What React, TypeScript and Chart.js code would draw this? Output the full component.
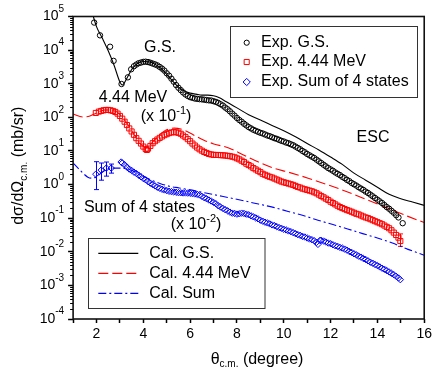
import React, { useEffect, useRef } from 'react';
import { Chart, registerables } from 'chart.js';

Chart.register(...registerables);

const FONT = '"Liberation Sans", Arial, Helvetica, sans-serif';

// ---- data (dσ/dΩ in mb/sr, angle θc.m. in degrees) ----
const gsAngles = [1.90, 2.15, 2.58, 2.73, 3.07, 3.34, 3.48, 3.6, 3.7, 3.8, 3.9, 4.0, 4.1, 4.2, 4.3, 4.4, 4.5, 4.6, 4.7, 4.8, 4.9, 5.0, 5.1, 5.2, 5.3, 5.4, 5.5, 5.6, 5.7, 5.8, 5.9, 6.0, 6.1, 6.2, 6.3, 6.4, 6.5, 6.6, 6.7, 6.8, 6.9, 7.0, 7.1, 7.2, 7.3, 7.4, 7.5, 7.6, 7.7, 7.8, 7.9, 8.0, 8.1, 8.2, 8.3, 8.4, 8.5, 8.6, 8.7, 8.8, 8.9, 9.0, 9.1, 9.2, 9.3, 9.4, 9.5, 9.6, 9.7, 9.8, 9.9, 10.0, 10.1, 10.2, 10.3, 10.4, 10.5, 10.6, 10.7, 10.8, 10.9, 11.0, 11.1, 11.2, 11.3, 11.4, 11.5, 11.6, 11.7, 11.8, 11.9, 12.0, 12.1, 12.2, 12.3, 12.4, 12.5, 12.6, 12.7, 12.8, 12.9, 13.0, 13.1, 13.2, 13.3, 13.4, 13.5, 13.6, 13.7, 13.8, 13.9, 14.0, 14.1, 14.2, 14.3, 14.4, 14.5, 14.6, 14.7, 14.8, 14.9, 15.08];
const gsValues = [66000, 27500, 12600, 4790, 980, 1550, 2690, 3311, 3715, 4074, 4266, 4467, 4520, 4416, 4217, 3981, 3758, 3508, 3162, 2818, 2455, 2042, 1738, 1413, 1148, 912, 759, 646, 550, 479, 432, 398, 380, 363, 355, 347, 343, 335, 327, 320, 316, 302, 288, 269, 245, 224, 195, 174, 151, 129, 112, 95.5, 83.2, 74.1, 64.6, 57.5, 51.3, 46.8, 42.7, 39.8, 37.2, 34.7, 33.1, 30.9, 28.8, 27.5, 25.7, 24.0, 22.9, 21.4, 20.0, 19.1, 17.8, 17.0, 15.8, 14.8, 13.5, 12.3, 11.2, 10.0, 9.12, 8.13, 7.41, 6.76, 6.17, 5.50, 4.90, 4.37, 3.89, 3.47, 3.09, 2.82, 2.57, 2.29, 2.09, 1.91, 1.70, 1.55, 1.38, 1.26, 1.12, 1.02, 0.933, 0.832, 0.759, 0.692, 0.617, 0.562, 0.501, 0.447, 0.398, 0.355, 0.316, 0.282, 0.245, 0.214, 0.191, 0.166, 0.145, 0.123, 0.105, 0.0708];

// 4.44 MeV state, already multiplied by 10^-1
const exc444Angles = [1.97, 2.1, 2.2, 2.3, 2.4, 2.5, 2.6, 2.7, 2.8, 2.9, 3.0, 3.1, 3.2, 3.3, 3.4, 3.5, 3.6, 3.7, 3.8, 3.9, 4.0, 4.1, 4.15, 4.2, 4.3, 4.4, 4.5, 4.6, 4.7, 4.8, 4.9, 5.0, 5.1, 5.2, 5.3, 5.4, 5.5, 5.6, 5.7, 5.8, 5.9, 6.0, 6.1, 6.2, 6.3, 6.4, 6.5, 6.6, 6.7, 6.8, 6.9, 7.0, 7.1, 7.2, 7.3, 7.4, 7.5, 7.6, 7.7, 7.8, 7.9, 8.0, 8.1, 8.2, 8.3, 8.4, 8.5, 8.6, 8.7, 8.8, 8.9, 9.0, 9.1, 9.2, 9.3, 9.4, 9.5, 9.6, 9.7, 9.8, 9.9, 10.0, 10.1, 10.2, 10.3, 10.4, 10.5, 10.6, 10.7, 10.8, 10.9, 11.0, 11.1, 11.2, 11.3, 11.4, 11.5, 11.6, 11.7, 11.8, 11.9, 12.0, 12.1, 12.2, 12.3, 12.4, 12.5, 12.6, 12.7, 12.8, 12.9, 13.0, 13.1, 13.2, 13.3, 13.4, 13.5, 13.6, 13.7, 13.8, 13.9, 14.0, 14.1, 14.2, 14.3, 14.4, 14.5, 14.6, 14.7, 14.8, 14.9, 14.98];
const exc444Values = [135, 148, 155, 162, 166, 166, 162, 155, 145, 129, 110, 91.2, 74.1, 58.9, 46.8, 38.0, 30.2, 24.0, 20.0, 16.6, 13.5, 11.5, 10.7, 11.7, 14.1, 17.0, 19.5, 21.9, 24.5, 26.9, 29.5, 31.6, 33.9, 35.5, 36.3, 35.9, 34.7, 32.4, 28.8, 25.7, 22.4, 19.5, 16.6, 14.5, 12.6, 11.2, 10.2, 9.33, 8.71, 8.13, 7.85, 7.67, 7.59, 7.59, 7.50, 7.41, 7.33, 7.16, 7.00, 6.76, 6.46, 6.03, 5.62, 5.13, 4.68, 4.17, 3.80, 3.47, 3.09, 2.82, 2.57, 2.34, 2.09, 1.95, 1.82, 1.70, 1.62, 1.51, 1.41, 1.32, 1.23, 1.17, 1.12, 1.07, 1.02, 0.977, 0.912, 0.851, 0.813, 0.759, 0.724, 0.692, 0.661, 0.631, 0.589, 0.550, 0.501, 0.457, 0.417, 0.380, 0.347, 0.309, 0.282, 0.257, 0.234, 0.214, 0.200, 0.186, 0.174, 0.166, 0.155, 0.145, 0.135, 0.129, 0.120, 0.112, 0.105, 0.100, 0.0933, 0.0871, 0.0813, 0.0759, 0.0708, 0.0661, 0.0603, 0.0550, 0.0501, 0.0437, 0.0372, 0.0316, 0.0263, 0.0209];
const exc444ErrAngles = [14.98];
const exc444ErrLow = [0.0145];
const exc444ErrHigh = [0.034];

// Sum of 4 states, already multiplied by 10^-2
const sumAngles = [1.97, 2.20, 2.42, 2.63, 3.05, 3.1, 3.2, 3.3, 3.4, 3.5, 3.6, 3.7, 3.8, 3.9, 4.0, 4.1, 4.2, 4.3, 4.4, 4.5, 4.6, 4.7, 4.8, 4.9, 5.0, 5.1, 5.2, 5.3, 5.4, 5.5, 5.6, 5.7, 5.8, 5.9, 6.0, 6.1, 6.2, 6.3, 6.4, 6.5, 6.6, 6.7, 6.8, 6.9, 7.0, 7.1, 7.2, 7.3, 7.4, 7.5, 7.6, 7.7, 7.8, 7.9, 8.0, 8.1, 8.2, 8.3, 8.4, 8.5, 8.6, 8.7, 8.8, 8.9, 9.0, 9.1, 9.2, 9.3, 9.4, 9.5, 9.6, 9.7, 9.8, 9.9, 10.0, 10.1, 10.2, 10.3, 10.4, 10.5, 10.6, 10.7, 10.8, 10.9, 11.0, 11.1, 11.2, 11.3, 11.4, 11.46, 11.55, 11.6, 11.7, 11.8, 11.9, 12.0, 12.1, 12.2, 12.3, 12.4, 12.5, 12.6, 12.7, 12.8, 12.9, 13.0, 13.1, 13.2, 13.3, 13.4, 13.5, 13.6, 13.7, 13.8, 13.9, 14.0, 14.1, 14.2, 14.3, 14.4, 14.5, 14.6, 14.7, 14.8, 14.9, 14.98];
const sumValues = [2.04, 2.69, 3.09, 3.09, 4.68, 4.37, 3.89, 3.31, 2.88, 2.63, 2.34, 2.14, 1.91, 1.70, 1.51, 1.38, 1.23, 1.10, 1.00, 0.912, 0.832, 0.776, 0.724, 0.692, 0.661, 0.631, 0.617, 0.603, 0.589, 0.575, 0.569, 0.562, 0.562, 0.556, 0.550, 0.537, 0.525, 0.513, 0.490, 0.447, 0.407, 0.380, 0.347, 0.324, 0.295, 0.269, 0.234, 0.214, 0.195, 0.178, 0.166, 0.151, 0.141, 0.138, 0.132, 0.135, 0.141, 0.138, 0.132, 0.126, 0.117, 0.110, 0.102, 0.0955, 0.0871, 0.0813, 0.0759, 0.0724, 0.0676, 0.0631, 0.0603, 0.0562, 0.0525, 0.0501, 0.0468, 0.0447, 0.0417, 0.0398, 0.0372, 0.0347, 0.0324, 0.0309, 0.0288, 0.0275, 0.0257, 0.0240, 0.0229, 0.0214, 0.0191, 0.0166, 0.0219, 0.0219, 0.0209, 0.0195, 0.0182, 0.0174, 0.0162, 0.0151, 0.0145, 0.0135, 0.0129, 0.0120, 0.0112, 0.0102, 0.00955, 0.00871, 0.00813, 0.00741, 0.00692, 0.00631, 0.00589, 0.00537, 0.00490, 0.00457, 0.00417, 0.00389, 0.00355, 0.00324, 0.00302, 0.00275, 0.00251, 0.00229, 0.00209, 0.00186, 0.00166, 0.00148];
const sumErrAngles = [1.97, 2.20, 2.42, 2.63];
const sumErrLow = [0.708, 1.35, 1.78, 2.19];
const sumErrHigh = [4.79, 4.37, 4.68, 4.07];

// calculations
const calGsAngles = [1.8, 2.0, 2.25, 2.5, 2.75, 3.0, 3.1, 3.25, 3.5, 3.75, 4.0, 4.25, 4.5, 4.75, 5.0, 5.25, 5.5, 5.75, 6.0, 6.25, 6.5, 6.75, 7.0, 7.25, 7.5, 7.75, 8.0, 8.5, 9.0, 9.5, 10.0, 10.5, 11.0, 11.5, 12.0, 12.5, 13.0, 13.5, 14.0, 14.5, 15.0, 15.5, 16.0];
const calGsValues = [141000, 50100, 22400, 9550, 3550, 1120, 912, 1260, 2630, 3980, 4570, 4470, 3800, 2880, 1910, 1200, 794, 603, 525, 490, 457, 457, 437, 380, 302, 240, 191, 120, 83.2, 57.5, 39.8, 26.3, 16.6, 10.7, 6.61, 3.98, 2.19, 1.35, 0.832, 0.513, 0.380, 0.302, 0.240];

const cal444Angles = [1.0, 1.42, 1.72, 2.0, 2.35, 2.78, 3.2, 3.62, 3.92, 4.13, 4.47, 4.89, 5.32, 5.74, 6.16, 6.59, 7.01, 7.65, 8.28, 8.92, 9.56, 10.19, 11.04, 11.89, 12.73, 13.58, 14.43, 15.28, 16.0];
const cal444Values = [126, 102, 110, 135, 166, 155, 83.2, 29.5, 15.1, 12.3, 20.9, 38.9, 47.9, 41.7, 29.5, 20.9, 16.2, 12.3, 7.59, 4.68, 3.09, 2.34, 1.55, 0.977, 0.603, 0.347, 0.200, 0.115, 0.0741];

const calSumAngles = [1.0, 1.21, 1.42, 1.63, 1.8, 1.97, 2.14, 2.35, 2.56, 2.82, 3.07, 3.33, 3.58, 3.84, 4.09, 4.34, 4.68, 5.11, 5.53, 5.95, 6.38, 7.01, 7.65, 8.28, 8.92, 9.56, 10.19, 10.83, 11.46, 12.1, 12.73, 13.37, 14.0, 14.64, 15.28, 16.0];
const calSumValues = [4.37, 3.09, 2.19, 1.66, 1.55, 1.66, 2.04, 2.63, 3.02, 3.09, 3.09, 2.88, 2.51, 2.04, 1.66, 1.35, 1.10, 0.891, 0.794, 0.708, 0.617, 0.501, 0.407, 0.331, 0.263, 0.209, 0.158, 0.120, 0.0871, 0.0646, 0.0479, 0.0347, 0.0257, 0.0182, 0.0120, 0.00794];

// axes
const xTickValues = [1, 2, 3, 4, 5, 6, 7, 8, 9, 10, 11, 12, 13, 14, 15, 16];
const xTickLabels = ['', '2', '', '4', '', '6', '', '8', '', '10', '', '12', '', '14', '', '16'];
const yDecadeExponents = [-4, -3, -2, -1, 0, 1, 2, 3, 4, 5];
const yMinorMultipliers = [2, 3, 4, 5, 6, 7, 8, 9];

const seriesLabels = ['Exp. G.S.', 'Exp. 4.44 MeV', 'Exp. Sum of 4 states', 'Cal. G.S.', 'Cal. 4.44 MeV', 'Cal. Sum'];
const seriesColors = ['#000000', '#ff0000', '#0000ff', '#000000', '#ff0000', '#0000ff'];
const seriesDashes: number[][] = [[], [], [], [], [10, 4], [8, 3, 2, 3]];

const toPoints = (xs: number[], ys: number[]) =>
  xs.slice(0, Math.min(xs.length, ys.length)).map((x, i) => ({ x, y: ys[i] }));

type Seg = { t: string; size: number; dy?: number };

function richWidth(ctx: CanvasRenderingContext2D, segs: Seg[]) {
  let w = 0;
  for (const s of segs) {
    ctx.font = `${s.size}px ${FONT}`;
    w += ctx.measureText(s.t).width;
  }
  return w;
}

function drawRich(ctx: CanvasRenderingContext2D, segs: Seg[], x: number, y: number, align: 'left' | 'center' | 'right') {
  const w = richWidth(ctx, segs);
  let cx = align === 'center' ? x - w / 2 : align === 'right' ? x - w : x;
  ctx.textAlign = 'left';
  ctx.textBaseline = 'middle';
  for (const s of segs) {
    ctx.font = `${s.size}px ${FONT}`;
    ctx.fillText(s.t, cx, y + (s.dy || 0));
    cx += ctx.measureText(s.t).width;
  }
}

function drawMarker(ctx: CanvasRenderingContext2D, style: string, x: number, y: number, r: number, color: string) {
  ctx.save();
  ctx.strokeStyle = color;
  ctx.lineWidth = 1;
  ctx.beginPath();
  if (style === 'circle') {
    ctx.arc(x, y, r, 0, Math.PI * 2);
  } else if (style === 'rect') {
    const h = r * Math.SQRT1_2;
    ctx.rect(x - h, y - h, 2 * h, 2 * h);
  } else {
    ctx.moveTo(x, y - r);
    ctx.lineTo(x + r, y);
    ctx.lineTo(x, y + r);
    ctx.lineTo(x - r, y);
    ctx.closePath();
  }
  ctx.stroke();
  ctx.restore();
}

const decorPlugin = {
  id: 'decor',
  beforeDatasetsDraw(chart: any) {
    const ctx: CanvasRenderingContext2D = chart.ctx;
    const xs = chart.scales.x;
    const ys = chart.scales.y;
    const bars = [
      { a: exc444ErrAngles, lo: exc444ErrLow, hi: exc444ErrHigh, c: seriesColors[1] },
      { a: sumErrAngles, lo: sumErrLow, hi: sumErrHigh, c: seriesColors[2] },
    ];
    ctx.save();
    ctx.lineWidth = 1;
    for (const b of bars) {
      ctx.strokeStyle = b.c;
      b.a.forEach((a, i) => {
        const px = Math.round(xs.getPixelForValue(a)) + 0.5;
        const y1 = ys.getPixelForValue(b.lo[i]);
        const y2 = ys.getPixelForValue(b.hi[i]);
        ctx.beginPath();
        ctx.moveTo(px, y1);
        ctx.lineTo(px, y2);
        ctx.moveTo(px - 2.5, y1);
        ctx.lineTo(px + 2.5, y1);
        ctx.moveTo(px - 2.5, y2);
        ctx.lineTo(px + 2.5, y2);
        ctx.stroke();
      });
    }
    ctx.restore();
  },
  afterDraw(chart: any) {
    const ctx: CanvasRenderingContext2D = chart.ctx;
    const { left, right, top, bottom } = chart.chartArea;
    const ys = chart.scales.y;
    ctx.save();

    // frame
    ctx.strokeStyle = '#111';
    ctx.lineWidth = 1.6;
    ctx.strokeRect(left, top, right - left, bottom - top);

    // minor y ticks
    ctx.lineWidth = 1;
    ctx.strokeStyle = '#000';
    ctx.beginPath();
    for (const e of yDecadeExponents.slice(0, -1)) {
      for (const m of yMinorMultipliers) {
        const py = Math.round(ys.getPixelForValue(m * Math.pow(10, e))) + 0.5;
        ctx.moveTo(left - 3, py);
        ctx.lineTo(left, py);
      }
    }
    ctx.stroke();

    // y tick labels 10^n
    ctx.fillStyle = '#000';
    for (const e of yDecadeExponents) {
      const py = ys.getPixelForValue(Math.pow(10, e));
      drawRich(ctx, [{ t: '10', size: 14 }, { t: String(e), size: 10, dy: -7.5 }], left - 9, py, 'right');
    }

    // axis titles
    drawRich(ctx, [{ t: 'θ', size: 16 }, { t: 'c.m.', size: 10, dy: 5 }, { t: ' (degree)', size: 16 }], 257, 359.5, 'center');
    ctx.save();
    ctx.translate(19, (top + bottom) / 2 - 2);
    ctx.rotate(-Math.PI / 2);
    drawRich(ctx, [{ t: 'dσ/dΩ', size: 16 }, { t: 'c.m.', size: 10, dy: 5 }, { t: ' (mb/sr)', size: 16 }], 0, 0, 'center');
    ctx.restore();

    // annotations
    drawRich(ctx, [{ t: 'G.S.', size: 16 }], 160, 48, 'center');
    drawRich(ctx, [{ t: '4.44 MeV', size: 16 }], 133, 97.5, 'center');
    drawRich(ctx, [{ t: '(x 10', size: 16 }, { t: '-1', size: 11, dy: -6 }, { t: ')', size: 16 }], 166, 117, 'center');
    drawRich(ctx, [{ t: 'Sum of 4 states', size: 16 }], 139.5, 208, 'center');
    drawRich(ctx, [{ t: '(x 10', size: 16 }, { t: '-2', size: 11, dy: -6 }, { t: ')', size: 16 }], 196, 225, 'center');
    drawRich(ctx, [{ t: 'ESC', size: 16 }], 373, 137.5, 'center');

    const ds = chart.data.datasets;

    // top legend (experimental)
    ctx.fillStyle = '#fff';
    ctx.fillRect(230.5, 26.5, 187, 71);
    ctx.strokeStyle = '#333';
    ctx.lineWidth = 1;
    ctx.strokeRect(230.5, 26.5, 187, 71);
    const expRows = [0, 1, 2];
    const expY = [42.7, 62, 82];
    expRows.forEach((di, i) => {
      const d = ds[di];
      drawMarker(ctx, d.pointStyle, 246.7, expY[i], di === 0 ? 2.6 : 3.6, seriesColors[di]);
      ctx.fillStyle = '#000';
      drawRich(ctx, [{ t: d.label, size: 16 }], 261, expY[i], 'left');
    });

    // bottom legend (calculations)
    ctx.fillStyle = '#fff';
    ctx.fillRect(88.5, 238.5, 176.5, 70);
    ctx.strokeStyle = '#333';
    ctx.lineWidth = 1;
    ctx.strokeRect(88.5, 238.5, 176.5, 70);
    const calRows = [3, 4, 5];
    const calY = [253.3, 273.3, 293.3];
    calRows.forEach((di, i) => {
      const d = ds[di];
      ctx.save();
      ctx.strokeStyle = seriesColors[di];
      ctx.lineWidth = 1.2;
      ctx.setLineDash(seriesDashes[di]);
      ctx.beginPath();
      ctx.moveTo(98.3, calY[i]);
      ctx.lineTo(138.3, calY[i]);
      ctx.stroke();
      ctx.restore();
      ctx.fillStyle = '#000';
      drawRich(ctx, [{ t: d.label, size: 16 }], 149.3, calY[i], 'left');
    });

    ctx.restore();
  },
};

export default function App() {
  const canvasRef = useRef<HTMLCanvasElement | null>(null);

  useEffect(() => {
    if (!canvasRef.current) return;
    Chart.defaults.font.family = FONT;
    Chart.defaults.color = '#000';

    const expCommon = { backgroundColor: 'rgba(0,0,0,0)', borderWidth: 1, showLine: false };
    const calCommon = { showLine: true, pointRadius: 0, borderWidth: 1.1, cubicInterpolationMode: 'monotone' };

    const chart = new Chart(canvasRef.current, {
      type: 'scatter',
      data: {
        datasets: [
          { ...expCommon, label: seriesLabels[0], data: toPoints(gsAngles, gsValues), pointStyle: 'circle', pointRadius: 2.7, borderColor: seriesColors[0] },
          { ...expCommon, label: seriesLabels[1], data: toPoints(exc444Angles, exc444Values), pointStyle: 'rect', pointRadius: 3.6, borderColor: seriesColors[1] },
          { ...expCommon, label: seriesLabels[2], data: toPoints(sumAngles, sumValues), pointStyle: 'rectRot', pointRadius: 3.2, borderColor: seriesColors[2] },
          { ...calCommon, label: seriesLabels[3], data: toPoints(calGsAngles, calGsValues), borderColor: seriesColors[3], borderDash: seriesDashes[3] },
          { ...calCommon, label: seriesLabels[4], data: toPoints(cal444Angles, cal444Values), borderColor: seriesColors[4], borderDash: seriesDashes[4] },
          { ...calCommon, label: seriesLabels[5], data: toPoints(calSumAngles, calSumValues), borderColor: seriesColors[5], borderDash: seriesDashes[5] },
        ] as any,
      },
      options: {
        animation: false,
        responsive: true,
        maintainAspectRatio: false,
        layout: { padding: { left: 0, right: 7.7, top: 16.5, bottom: 0 } },
        plugins: {
          legend: { display: false },
          tooltip: { enabled: false },
        },
        scales: {
          x: {
            type: 'linear',
            min: 1,
            max: 16,
            afterBuildTicks: (scale: any) => {
              scale.ticks = xTickValues.map((v) => ({ value: v }));
            },
            afterFit: (scale: any) => {
              scale.height = 54;
            },
            ticks: {
              autoSkip: false,
              maxRotation: 0,
              padding: 3,
              font: { size: 14, family: FONT },
              color: '#000',
              callback: (v: any) => {
                const i = xTickValues.indexOf(Number(v));
                return i >= 0 ? xTickLabels[i] : '';
              },
            },
            grid: {
              display: true,
              drawOnChartArea: false,
              drawTicks: true,
              tickLength: 4,
              tickWidth: 1.5,
              tickColor: '#000',
            },
            border: { display: false },
          },
          y: {
            type: 'logarithmic',
            min: 1e-4,
            max: 1e5,
            afterBuildTicks: (scale: any) => {
              scale.ticks = yDecadeExponents.map((e) => ({ value: Math.pow(10, e), major: true }));
            },
            afterFit: (scale: any) => {
              scale.width = 73.1;
            },
            ticks: { display: false },
            grid: {
              display: true,
              drawOnChartArea: false,
              drawTicks: true,
              tickLength: 5,
              tickWidth: 1.5,
              tickColor: '#000',
            },
            border: { display: false },
          },
        },
      } as any,
      plugins: [decorPlugin],
    });

    return () => chart.destroy();
  }, []);

  return (
    <div style={{ position: 'fixed', left: 0, top: 0, width: 435, height: 373, background: '#fff' }}>
      <canvas ref={canvasRef} />
    </div>
  );
}
